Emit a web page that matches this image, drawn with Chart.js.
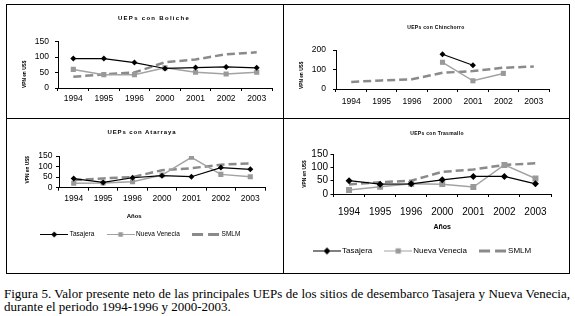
<!DOCTYPE html>
<html>
<head>
<meta charset="utf-8">
<script src="https://cdn.jsdelivr.net/npm/chart.js@4.4.1/dist/chart.umd.min.js"></script>
<style>
html, body { margin: 0; padding: 0; background: #fff; }
#page { position: relative; width: 575px; height: 316px; overflow: hidden; font-family: 'Liberation Sans', Arial, sans-serif; }
.rule { position: absolute; background: #000; }
canvas { position: absolute; }
.ttl { position: absolute; transform: translate(-50%, -50%); font-weight: bold; white-space: nowrap; color: #000; }
#caption { position: absolute; left: 4px; top: 287px; width: 566px; font-family: 'Liberation Serif', 'Times New Roman', serif; font-size: 13px; line-height: 13.3px; text-align: justify; color: #000; }
</style>
</head>
<body>
<div id="page">
  <div class="rule" style="left:6px;top:4px;width:564px;height:1px"></div>
  <div class="rule" style="left:6px;top:273px;width:564px;height:1px"></div>
  <div class="rule" style="left:6px;top:4px;width:1px;height:270px"></div>
  <div class="rule" style="left:569px;top:4px;width:1px;height:270px"></div>
  <div class="rule" style="left:283px;top:4px;width:1px;height:270px"></div>
  <div class="rule" style="left:6px;top:118px;width:564px;height:1px"></div>

  <canvas id="boliche" width="276" height="112" style="left:7px;top:5px"></canvas>
  <canvas id="chinchorro" width="285" height="112" style="left:284px;top:5px"></canvas>
  <canvas id="atarraya" width="276" height="153" style="left:7px;top:119px"></canvas>
  <canvas id="trasmallo" width="285" height="153" style="left:284px;top:119px"></canvas>

  <div class="ttl" style="left:154px;top:18px;font-size:6px;letter-spacing:1.3px">UEPs con Boliche</div>
  <div class="ttl" style="left:436px;top:27px;font-size:5px;letter-spacing:0.3px">UEPs con Chinchorro</div>
  <div class="ttl" style="left:142px;top:132px;font-size:6px;letter-spacing:0.9px">UEPs con Atarraya</div>
  <div class="ttl" style="left:437px;top:133px;font-size:5px;letter-spacing:0.3px">UEPs con Trasmallo</div>

  <div id="caption">Figura 5. Valor presente neto de las principales UEPs de los sitios de desembarco Tasajera y Nueva Venecia, durante el periodo 1994-1996 y 2000-2003.</div>
</div>
<script>
const years = ['1994', '1995', '1996', '2000', '2001', '2002', '2003'];
const seriesNames = ['Tasajera', 'Nueva Venecia', 'SMLM'];
const smlm = [36, 44, 50, 83, 92, 109, 115];

const bolicheTasajera = [95, 95, 82, 63, 66, 68, 65];
const bolicheNuevaVenecia = [60, 43, 43, 65, 51, 45, 51];

const chinchorroTasajera = [null, null, null, 178, 122, null, null];
const chinchorroNuevaVenecia = [null, null, null, 137, 42, 80, null];

const atarrayaTasajera = [43, 25, 47, 57, 52, 95, 87];
const atarrayaNuevaVenecia = [21, 22, 28, 60, 144, 63, 52];

const trasmalloTasajera = [50, 37, 38, 53, 66, 66, 38];
const trasmalloNuevaVenecia = [15, 27, 38, 37, 26, 109, 58];

const blackLine = '#000000';
const lightGray = '#a3a3a3';
const dashGray = '#8a8a8a';

Chart.defaults.font.family = "'Liberation Sans', Arial, sans-serif";
Chart.defaults.color = '#000';

// small legend pictures: line with marker in the middle
function legendIcon(kind, w, h, r) {
  const c = document.createElement('canvas');
  c.width = w; c.height = h;
  const g = c.getContext('2d');
  const m = h / 2;
  if (kind === 'dash') {
    g.strokeStyle = dashGray; g.lineWidth = 3;
    g.setLineDash([11, 5]);
    g.beginPath(); g.moveTo(0, m); g.lineTo(w, m); g.stroke();
    return c;
  }
  g.strokeStyle = kind === 'diamond' ? blackLine : lightGray;
  g.lineWidth = 1;
  g.beginPath(); g.moveTo(0, m); g.lineTo(w, m); g.stroke();
  g.fillStyle = kind === 'diamond' ? blackLine : '#999';
  g.beginPath();
  if (kind === 'diamond') {
    g.moveTo(w / 2, m - r); g.lineTo(w / 2 + r, m); g.lineTo(w / 2, m + r); g.lineTo(w / 2 - r, m);
  } else {
    g.rect(w / 2 - r * 0.75, m - r * 0.75, r * 1.5, r * 1.5);
  }
  g.fill();
  return c;
}

function makePanel(id, p) {
  const icons = p.legend ? [
    legendIcon('diamond', 28, p.legend.iconH, p.legend.r),
    legendIcon('square', 28, p.legend.iconH, p.legend.r),
    legendIcon('dash', 28, p.legend.iconH, 0)
  ] : [];

  const legendOpts = p.legend ? {
    display: true,
    position: 'bottom',
    align: 'start',
    title: p.legend.title || { display: false },
    labels: {
      usePointStyle: true,
      pointStyleWidth: p.legend.boxW,
      padding: p.legend.pad,
      font: { size: p.legend.font },
      color: '#000',
      generateLabels(chart) {
        const items = Chart.defaults.plugins.legend.labels.generateLabels(chart);
        items.forEach((it, i) => { it.pointStyle = icons[i]; });
        return items;
      }
    }
  } : { display: false };

  return new Chart(document.getElementById(id), {
    type: 'line',
    data: {
      labels: years,
      datasets: [
        {
          label: seriesNames[0], data: p.tasajera,
          borderColor: blackLine, backgroundColor: blackLine, borderWidth: 1.2,
          pointStyle: 'rectRot', pointRadius: p.dot, pointBorderWidth: 0
        },
        {
          label: seriesNames[1], data: p.nuevaVenecia,
          borderColor: lightGray, backgroundColor: '#999', borderWidth: 1.5,
          pointStyle: 'rect', pointRadius: p.dot * 1.2, pointBorderWidth: 0
        },
        {
          label: seriesNames[2], data: smlm,
          borderColor: dashGray, borderWidth: 2.5, borderDash: [8, 4], pointRadius: 0
        }
      ]
    },
    options: {
      responsive: false,
      animation: false,
      events: [],
      layout: { padding: p.padding },
      plugins: { legend: legendOpts, tooltip: { enabled: false } },
      scales: {
        x: {
          offset: true,
          grid: { offset: true, drawOnChartArea: false, tickLength: 3, color: '#000' },
          border: { color: '#000' },
          ticks: { font: { size: p.tickFont }, padding: p.xPad, maxRotation: 0, autoSkip: false, color: '#000' },
          title: p.xTitle || { display: false },
          afterFit(s) { s.height = p.xH; }
        },
        y: {
          min: 0, max: p.yMax,
          ticks: { stepSize: p.yStep, autoSkip: false, font: { size: p.tickFont }, padding: p.yPad, color: '#000' },
          grid: { drawOnChartArea: false, tickLength: 3, color: '#000' },
          border: { color: '#000' },
          title: {
            display: true, text: 'VPN en US$', align: p.yAlign, color: '#000',
            font: { size: 4.8, weight: 'bold' }, padding: { top: p.yTitlePad, bottom: 0 }
          },
          afterFit(s) { s.width = p.yW; }
        }
      }
    }
  });
}

makePanel('boliche', {
  tasajera: bolicheTasajera, nuevaVenecia: bolicheNuevaVenecia,
  padding: { left: 8, right: 11, top: 36.5, bottom: 0 },
  yW: 43, xH: 29, yMax: 150, yStep: 50, tickFont: 8.5, xPad: 3, yPad: 6,
  yAlign: 'start', yTitlePad: 7, dot: 3
});

makePanel('chinchorro', {
  tasajera: chinchorroTasajera, nuevaVenecia: chinchorroNuevaVenecia,
  padding: { left: 8, right: 20, top: 45, bottom: 0 },
  yW: 44, xH: 28, yMax: 200, yStep: 100, tickFont: 8.5, xPad: 4.6, yPad: 7,
  yAlign: 'start', yTitlePad: 7, dot: 3
});

makePanel('atarraya', {
  tasajera: atarrayaTasajera, nuevaVenecia: atarrayaNuevaVenecia,
  padding: { left: 21, right: 18, top: 37, bottom: 24.3 },
  yW: 31, xH: 25.3, yMax: 150, yStep: 50, tickFont: 8.5, xPad: 2.5, yPad: 3.5,
  yAlign: 'end', yTitlePad: -3, dot: 3,
  legend: {
    boxW: 24.5, pad: 14, font: 6.5, iconH: 7, r: 3,
    title: { display: true, text: 'Años', position: 'center', color: '#000',
             font: { size: 6, weight: 'bold' }, padding: { top: 0, bottom: -3 } }
  }
});

makePanel('trasmallo', {
  tasajera: trasmalloTasajera, nuevaVenecia: trasmalloNuevaVenecia,
  padding: { left: 17, right: 18, top: 35, bottom: 7 },
  yW: 32.5, xH: 38, yMax: 150, yStep: 50, tickFont: 10, xPad: 9.5, yPad: 2.5,
  yAlign: 'center', yTitlePad: 1, dot: 3.5,
  xTitle: { display: true, text: 'Años', color: '#000', font: { size: 7, weight: 'bold' }, padding: { top: 0, bottom: 0.5 } },
  legend: { boxW: 22, pad: 15, font: 8, iconH: 9, r: 3.5 }
});
</script>
</body>
</html>
